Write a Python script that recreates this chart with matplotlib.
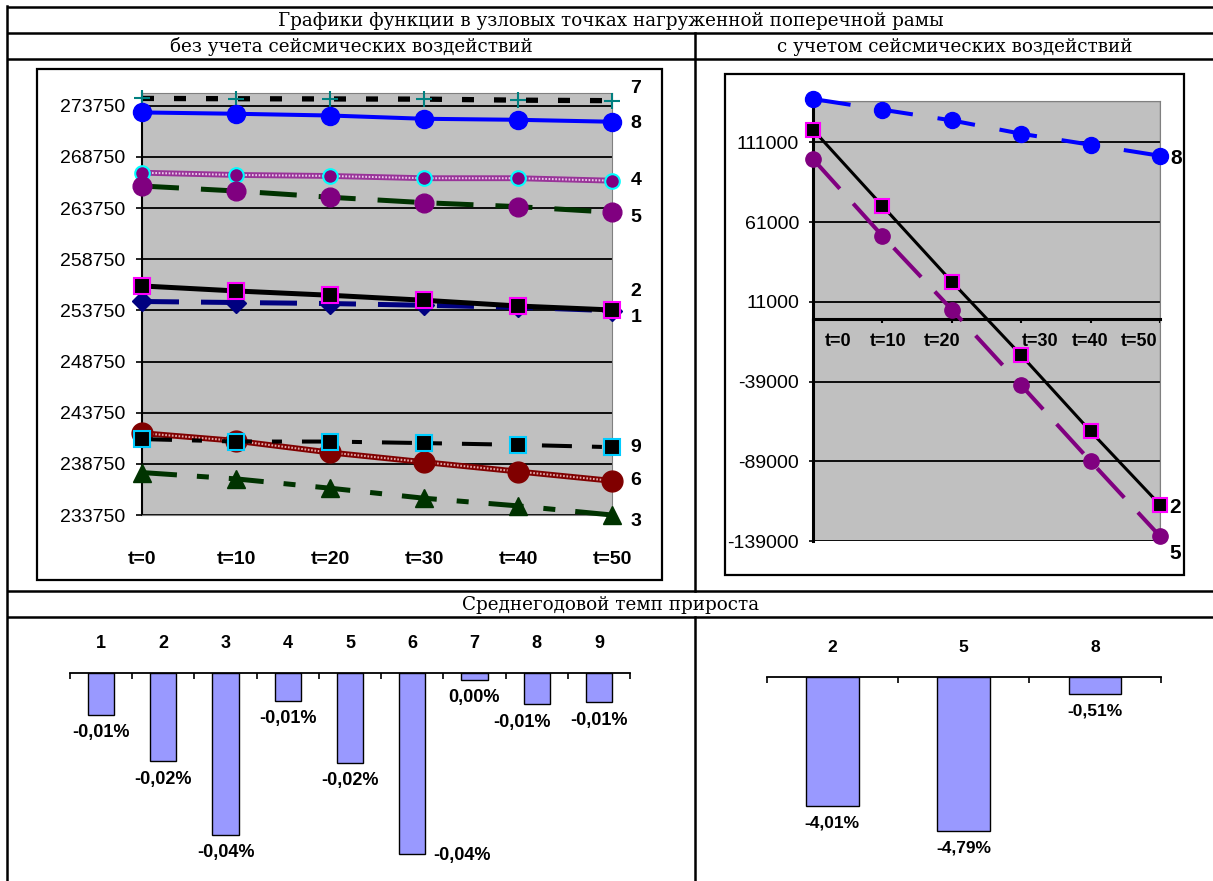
import numpy as np
import matplotlib
matplotlib.use("Agg")
from matplotlib import pyplot as plt
from matplotlib.patches import Rectangle

#----------------------
# данные
#----------------------
periods = ["t=0", "t=10", "t=20", "t=30", "t=40", "t=50"]

# без учета сейсмических воздействий (узлы 1..9)
node1 = [254620, 254520, 254420, 254250, 254050, 253720]
node2 = [256140, 255650, 255230, 254740, 254180, 253790]
node3 = [237900, 237280, 236370, 235390, 234640, 233750]
node4 = [267210, 266990, 266890, 266670, 266670, 266430]
node5 = [265910, 265420, 264810, 264280, 263890, 263340]
node6 = [241750, 241000, 239860, 238920, 238000, 237090]
node7 = [274470, 274440, 274420, 274400, 274300, 274250]
node8 = [273100, 272970, 272800, 272480, 272380, 272190]
node9 = [241170, 240930, 240930, 240780, 240610, 240380]

# с учетом сейсмических воздействий (узлы 2, 5, 8)
seis2 = [118980, 71240, 23690, -22480, -70220, -116320]
seis5 = [100570, 52390, 6160, -41320, -89000, -136020]
seis8 = [138260, 131540, 124820, 116460, 109550, 102650]

# среднегодовой темп прироста, %
rate_nodes = ["1", "2", "3", "4", "5", "6", "7", "8", "9"]
rate_plain = [-0.0093, -0.0196, -0.0359, -0.0062, -0.0199, -0.0402, -0.0015, -0.0069, -0.0065]
rate_seis_nodes = ["2", "5", "8"]
rate_seis = [-4.01, -4.79, -0.51]

W, H = 1213, 881
PT = 0.72  # пиксели -> пункты при dpi=100

plt.rcParams['font.family'] = ['Liberation Sans', 'DejaVu Sans']
plt.rcParams['lines.scale_dashes'] = False
plt.rcParams['axes.unicode_minus'] = False
SERIF = ['DejaVu Serif', 'Liberation Serif']

fig = plt.figure(figsize=(W / 100, H / 100), dpi=100)


def px_axes(x0, y0, x1, y1):
    return fig.add_axes([x0 / W, 1 - y1 / H, (x1 - x0) / W, (y1 - y0) / H])


def pct(v, nd=2):
    s = "{:.{}f}".format(round(v, nd) + 0.0, nd)
    if float(s) == 0:
        s = s.lstrip("-")
    return s.replace(".", ",") + "%"


#----------------------
# таблица
#----------------------
bg = px_axes(0, 0, W, H)
bg.set_xlim(0, W)
bg.set_ylim(H, 0)
bg.axis('off')

for y in [7, 33, 59, 591, 617]:
    bg.plot([7, W + 5], [y, y], color='black', lw=1.8, solid_capstyle='butt', clip_on=False)
bg.plot([7, 7], [6, H + 5], color='black', lw=1.8, clip_on=False)
bg.plot([695, 695], [33, 591], color='black', lw=1.8)
bg.plot([695, 695], [617, H + 5], color='black', lw=1.8, clip_on=False)

bg.text(611, 20.5, "Графики функции в узловых точках нагруженной поперечной рамы",
        ha='center', va='center', family=SERIF, fontsize=13.2)
bg.text(351, 46.5, "без учета сейсмических воздействий", ha='center', va='center', family=SERIF, fontsize=13.2)
bg.text(955, 46.5, "с учетом сейсмических воздействий", ha='center', va='center', family=SERIF, fontsize=13.2)
bg.text(611, 604.5, "Среднегодовой темп прироста", ha='center', va='center', family=SERIF, fontsize=13.2)

bg.add_patch(Rectangle((37, 69), 625, 511, fill=False, lw=1.6, ec='black'))
bg.add_patch(Rectangle((725, 74), 459, 501, fill=False, lw=1.6, ec='black'))

#----------------------
# график без сейсмики
#----------------------
ax = px_axes(142, 93, 612, 515)
ax.set_facecolor('#C0C0C0')
x = np.arange(len(periods))
ax.set_xlim(0, 5)
ax.set_ylim(233750, 275000)
ax.set_yticks(np.arange(233750, 275000, 5000))
ax.grid(axis='y', color='black', lw=1.3)
ax.set_axisbelow(True)
for s in ['top', 'right', 'bottom']:
    ax.spines[s].set_color('#808080')
ax.spines['left'].set_color('black')
ax.spines['left'].set_linewidth(1.5)
ax.tick_params(axis='y', direction='out', length=6 * PT, width=1.2, pad=11 * PT, labelsize=14)
ax.set_xticks(x)
ax.set_xticklabels(periods, fontweight='bold', fontsize=14)
ax.tick_params(axis='x', length=0, pad=36 * PT)


def patterned(ax, y, color, light, lw):
    ax.plot(x, y, color=color, lw=lw, clip_on=False, zorder=3)
    ax.plot(x, y, color=light, lw=lw * 0.35, dashes=(1.2, 1.2), clip_on=False, zorder=3)


ax.plot(x, node1, color='#000080', lw=3.6, dashes=(37 * PT, 22 * PT), marker='D', ms=10,
        mfc='#000080', mec='#000080', clip_on=False, zorder=3)
ax.plot(x, node2, color='black', lw=3.6, marker='s', ms=11.5, mfc='black', mec='#FF00FF',
        mew=1.5, clip_on=False, zorder=3)
ax.plot(x, node3, color='#003300', lw=3.6, dashes=(35 * PT, 20 * PT, 12 * PT, 20 * PT), marker='^',
        ms=13, mfc='#003300', mec='#003300', clip_on=False, zorder=3)
patterned(ax, node4, '#993399', '#E8C8E8', 4.2)
ax.plot(x, node4, ls='none', marker='o', ms=10.5, mfc='#800080', mec='#00FFFF', mew=1.5, clip_on=False, zorder=3)
ax.plot(x, node5, color='#003300', lw=3.6, dashes=(37 * PT, 22 * PT), marker='o', ms=13.5,
        mfc='#800080', mec='#800080', clip_on=False, zorder=3)
patterned(ax, node6, '#800000', '#E0A8A8', 4.2)
ax.plot(x, node6, ls='none', marker='o', ms=15, mfc='#800000', mec='#800000', clip_on=False, zorder=3)
ax.plot(x, node7, color='black', lw=3.8, dashes=(12 * PT, 20 * PT), marker='+', ms=12,
        mec='#008080', mew=1.5, clip_on=False, zorder=3)
ax.plot(x, node8, color='#0000FF', lw=2.9, marker='o', ms=13, mfc='#0000FF', mec='#0000FF',
        clip_on=False, zorder=3)
ax.plot(x, node9, color='black', lw=2.9, dashes=(30 * PT, 20 * PT, 10 * PT, 20 * PT), marker='s',
        ms=11, mfc='black', mec='#00CCFF', mew=1.5, clip_on=False, zorder=3)

# подписи номеров узлов справа
tags = [("7", node7, -12), ("8", node8, 2), ("4", node4, 0), ("5", node5, 5), ("2", node2, -18),
        ("1", node1, 7), ("9", node9, 0), ("6", node6, 0), ("3", node3, 6)]
for name, ys, dy in tags:
    ax.annotate(name, (x[-1], ys[-1]), xytext=(24 * PT, -dy * PT), textcoords='offset points',
                ha='center', va='center', fontweight='bold', fontsize=14, annotation_clip=False)

#----------------------
# график с сейсмикой
#----------------------
ax2 = px_axes(813, 101, 1160, 541)
ax2.set_facecolor('#C0C0C0')
ax2.set_xlim(0, 5)
ax2.set_ylim(-139000, 137000)
ax2.set_yticks(np.arange(-139000, 137000, 50000))
ax2.grid(axis='y', color='black', lw=1.3)
ax2.set_axisbelow(True)
ax2.spines['top'].set_color('#808080')
ax2.spines['right'].set_color('#808080')
ax2.spines['left'].set_linewidth(2.2)
ax2.spines['bottom'].set_position(('data', 0))
ax2.spines['bottom'].set_linewidth(2.2)
ax2.add_patch(Rectangle((0, 0), 1, 1, transform=ax2.transAxes, fill=False, ec='#808080', lw=1, zorder=0.5))
ax2.tick_params(axis='y', direction='out', length=4 * PT, width=1.2, pad=10 * PT, labelsize=14)
ax2.set_xticks(x)
ax2.set_xticklabels([])
ax2.tick_params(axis='x', direction='out', length=4 * PT, width=1.5)

label_shift = [25, 6, -10, 19, -1, -21]
for i, lab in enumerate(periods):
    ax2.annotate(lab, (x[i], 0), xytext=(label_shift[i] * PT, -22 * PT), textcoords='offset points',
                 ha='center', va='center', fontweight='bold', fontsize=13)

ax2.plot(x, seis8, color='#0000FF', lw=2.9, dashes=(38 * PT, 25 * PT), marker='o', ms=11.5,
         mfc='#0000FF', mec='#0000FF', clip_on=False, zorder=3)
ax2.plot(x, seis2, color='black', lw=2.2, marker='s', ms=10.5, mfc='black', mec='#FF00FF',
         mew=1.5, clip_on=False, zorder=3)
ax2.plot(x, seis5, color='#800080', lw=2.9, dashes=(40 * PT, 20 * PT), marker='o', ms=11,
         mfc='#800080', mec='#800080', clip_on=False, zorder=3)

for name, ys, dx, dy in [("8", seis8, 16, 3), ("2", seis2, 15, 3), ("5", seis5, 15, 17)]:
    ax2.annotate(name, (x[-1], ys[-1]), xytext=(dx * PT, -dy * PT), textcoords='offset points',
                 ha='center', va='center', fontweight='bold', fontsize=15, annotation_clip=False)

#----------------------
# гистограммы темпа прироста
#----------------------
def rate_bars(ax, names, vals, width, fs, label_off):
    xb = np.arange(len(names))
    ax.bar(xb, vals, width=width, color='#9999FF', edgecolor='black', lw=1)
    ax.set_xlim(-0.5, len(names) - 0.5)
    for s in ['left', 'right', 'bottom']:
        ax.spines[s].set_visible(False)
    ax.spines['top'].set_linewidth(1.3)
    ax.set_facecolor('none')
    ax.set_yticks([])
    ax.xaxis.set_ticks_position('top')
    ax.set_xticks(np.arange(-0.5, len(names), 1))
    ax.tick_params(axis='x', direction='in', length=6 * PT, width=1.2, labeltop=False)
    for i, n in enumerate(names):
        ax.annotate(n, (xb[i], 0), xytext=(0, 30 * PT), textcoords='offset points',
                    ha='center', va='center', fontweight='bold', fontsize=fs, annotation_clip=False)
    for i, v in enumerate(vals):
        dx, dy = label_off.get(i, (0, 18))
        ax.annotate(pct(v), (xb[i], v), xytext=(dx * PT, -dy * PT), textcoords='offset points',
                    ha='center', va='center', fontweight='bold', fontsize=fs, annotation_clip=False)


ax3 = px_axes(70, 673, 630, 871)
ax3.set_ylim(-0.044, 0)
rate_bars(ax3, rate_nodes, rate_plain, 0.42, 13, {5: (50, 1.5), 7: (-15, 18)})

ax4 = px_axes(766.7, 677.3, 1160.7, 863.2)
ax4.set_ylim(-5.8, 0)
rate_bars(ax4, rate_seis_nodes, rate_seis, 0.40, 12.5, {0: (0, 17), 1: (0, 17.5), 2: (0, 17)})

fig.savefig("out.png", dpi=100)
